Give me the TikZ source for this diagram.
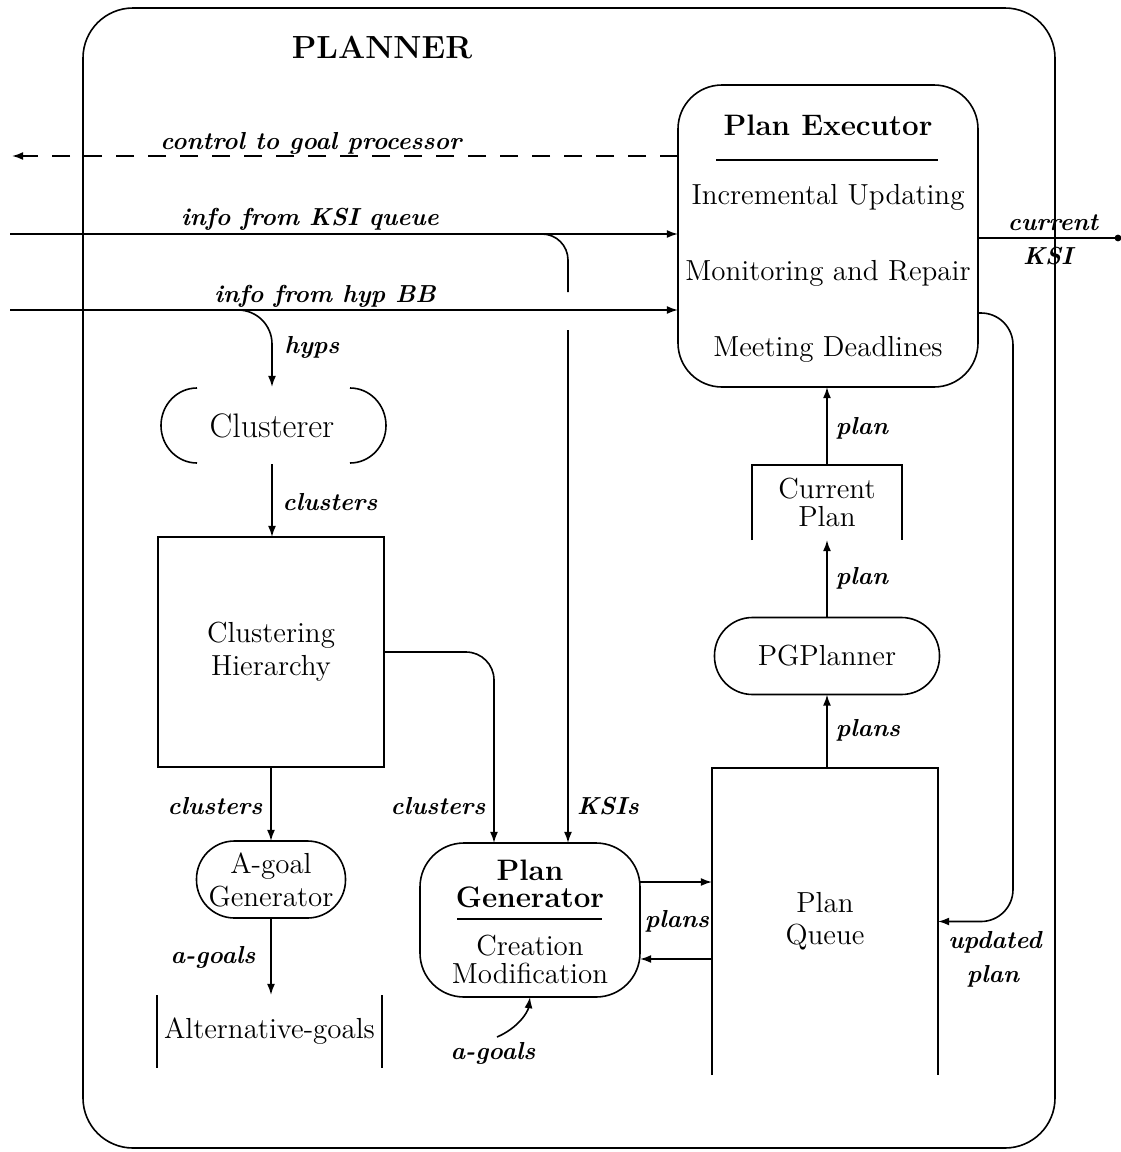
\documentclass[tikz,border=0pt]{standalone}
\usetikzlibrary{arrows.meta,calc}
\begin{document}
\begin{tikzpicture}[x=0.5pt,y=-0.5pt,
  every node/.style={inner sep=0pt, outer sep=0pt},
  lw/.style={line width=0.8pt},
  txt/.style={font=\fontsize{14.5}{16.5}\selectfont, align=center},
  ttl/.style={font=\fontsize{14.8}{17}\selectfont\bfseries},
  lbl/.style={font=\fontsize{12.3}{14}\selectfont\bfseries\itshape},
  flow/.style={line width=0.8pt, -{Latex[length=5.6pt,width=4pt]}},
]
\useasboundingbox (0,0) rectangle (1120,1152);

% outer frame and title
\node[draw, lw, rounded corners=25pt, minimum width=486pt, minimum height=570pt] (frame) at (569,578) {};
\node[font=\fontsize{16}{18}\selectfont\bfseries] (title) at (382,47) {PLANNER};

% Plan Executor
\node[draw, lw, rounded corners=22pt, minimum width=150pt, minimum height=151pt] (pe) at (828,236) {};
\node[ttl] (pe1) at (828,125) {Plan Executor};
\draw[lw] (716,160) -- (938,160);
\node[txt] (pe2) at (828,197) {Incremental Updating};
\node[txt] (pe3) at (828,273) {Monitoring and Repair};
\node[txt] (pe4) at (828,349) {Meeting Deadlines};

% right column
\node[txt, font=\fontsize{14.5}{14}\selectfont, minimum width=75pt, minimum height=37.5pt] (cp) at (827,502.5) {Current\\Plan};
\draw[lw] (cp.south west) |- (cp.north east) -- (cp.south east);
\node[draw, lw, txt, rounded corners=19pt, minimum width=112.5pt, minimum height=38.5pt] (pgp) at (827,656) {PGPlanner};
\node[txt, font=\fontsize{14.5}{16}\selectfont, minimum width=113pt, minimum height=153.5pt] (pq) at (825,921.5) {Plan\\Queue};
\draw[lw] (pq.south west) |- (pq.north east) -- (pq.south east);

% Plan Generator
\node[draw, lw, rounded corners=22pt, minimum width=110pt, minimum height=77pt] (pg) at (530,920) {};
\node[ttl] (pg1) at (530,870) {Plan};
\node[ttl] (pg2) at (530,897) {Generator};
\draw[lw] (457,919) -- (602,919);
\node[txt] (pg3) at (530,946) {Creation};
\node[txt] (pg4) at (530,973) {Modification};

% left column
\node[font=\fontsize{17}{18}\selectfont, minimum width=112.5pt, minimum height=38.5pt] (clu) at (272,425.5) {Clusterer};
\draw[lw] (197,463) arc[start angle=90, end angle=270, x radius=36, y radius=37.5];
\draw[lw] (350,463) arc[start angle=90, end angle=-90, x radius=36, y radius=37.5];
\node[draw, lw, txt, minimum width=113pt, minimum height=115pt] (ch) at (271,652) {Clustering\\Hierarchy};
\node[draw, lw, txt, rounded corners=19pt, minimum width=74.5pt, minimum height=38.5pt] (ag) at (271,879.5) {A-goal\\Generator};
\node[txt, minimum width=112.5pt, minimum height=36.5pt] (alt) at (269.5,1031.5) {Alternative-goals};
\draw[lw] (alt.north west) -- (alt.south west);
\draw[lw] (alt.north east) -- (alt.south east);

% incoming and outgoing lines of the executor
\coordinate (ctlend) at (12,156);
\coordinate (ksiin) at (10,234);
\coordinate (hypin) at (10,310);
\coordinate (ksiout) at (1118,238);
\draw[line width=0.8pt, dash pattern=on 9pt off 7pt, -{Latex[length=5.6pt,width=4pt]}] (pe.west |- ctlend) -- (ctlend);
\draw[flow] (ksiin) -- (ksiin -| pe.west);
\draw[flow] (hypin) -- (hypin -| pe.west);
\draw[lw] (pe.east |- ksiout) -- (ksiout);
\fill (ksiout) circle (1.7pt);

% KSI branch down to the generator, broken where it crosses the hyp line
\coordinate (kgapA) at (568,292);
\coordinate (kgapB) at (568,330);
\draw[lw, rounded corners=13pt] (520,234) -| (kgapA);
\draw[flow] (kgapB) -- (kgapB |- pg.north);

% hyp branch into the clusterer
\draw[flow, rounded corners=17pt] (200,310) -| (clu.north);

% left column flow
\draw[flow] (clu.south) -- (clu.south |- ch.north);
\draw[flow] (ch.south) -- (ch.south |- ag.north);
\draw[flow] (ag.south) -- (ag.south |- alt.north);
\draw[flow, rounded corners=14pt] (ch.east) -| ($(pg.north)+(-36,0)$);

% generator <-> queue
\draw[flow] ($(pg.east)+(0,-38)$) -- ($(pq.west)+(0,-39.5)$);
\draw[flow] ($(pq.west)+(0,37.5)$) -- ($(pg.east)+(0,39)$);
\coordinate (agsrc) at (497,1037);
\draw[flow] (agsrc) .. controls (518,1028) and (528,1012) .. (pg.south);

% right column flow
\draw[flow] (pgp.south |- pq.north) -- (pgp.south);
\draw[flow] (pgp.north) -- (cp.south);
\draw[flow] (cp.north) -- (cp.north |- pe.south);
\draw[flow, rounded corners=16pt] ($(pe.east)+(0,77)$) -| (1013,600) |- (pq.east);

% labels
\node[lbl] at (311,143) {control to goal processor};
\node[lbl] at (310,219) {info from KSI queue};
\node[lbl] at (325,296) {info from hyp BB};
\node[lbl] at (312,347) {hyps};
\node[lbl] at (330,502) {clusters};
\node[lbl] at (1053,223) {current};
\node[lbl] at (1048,256) {KSI};
\node[lbl] at (862,428) {plan};
\node[lbl] at (862,578) {plan};
\node[lbl] at (868,730) {plans};
\node[lbl] at (215,806) {clusters};
\node[lbl] at (438,806) {clusters};
\node[lbl] at (608,806) {KSIs};
\node[lbl] at (213,957) {a-goals};
\node[lbl] at (677,921) {plans};
\node[lbl] at (995,942) {updated};
\node[lbl] at (993,976) {plan};
\node[lbl] at (493,1053) {a-goals};
\end{tikzpicture}
\end{document}
